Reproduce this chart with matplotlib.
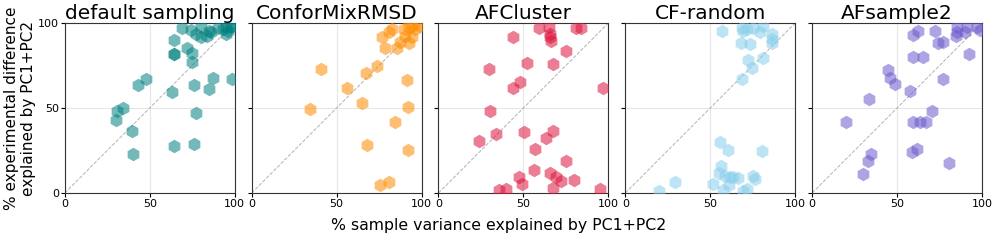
import numpy as np
import matplotlib.pyplot as plt

titles = ['default sampling', 'ConforMixRMSD', 'AFCluster', 'CF-random', 'AFsample2']
colors = ['teal', 'darkorange', 'crimson', 'skyblue', 'slateblue']

# default sampling
ds_x = [69, 74, 80, 77, 80, 85, 86, 84, 90, 93, 95, 98, 95, 96, 98.6, 64, 72, 75, 64, 64,
        75, 48, 43, 63, 76, 87, 98.6, 85, 34, 31, 30, 77.5, 39.4, 40, 64, 76]
ds_y = [97, 96, 97.4, 93.7, 91.7, 95.5, 94.5, 92.5, 97, 96.4, 97.4, 97.4, 93.5, 95.5, 98.4, 90, 85.6, 82.6, 82, 81.6,
        77.3, 66.8, 63.8, 59.7, 63.8, 67.4, 66.8, 61.3, 49.8, 48.4, 43, 47, 36.2, 23, 27.7, 28.7]

# ConforMixRMSD
cm_x = [40.7, 56.3, 34.4, 64.8, 67.2, 73.7, 91.5, 92, 84.2, 67.8, 92, 75.7, 81, 78.7, 85.6, 92.5,
        76.7, 80.6, 82.6, 89.5, 92.5, 94.5, 96.4, 98.4, 87.5, 94.5, 90.5]
cm_y = [73, 62, 49.4, 53, 70.4, 74.7, 66.4, 50.6, 41.9, 28.3, 25.3, 4.9, 6.3, 85.2, 85.2, 88.5,
        91.9, 94.5, 96.4, 96.4, 97.4, 98.4, 96.4, 98.4, 88.9, 91.5, 92.5]

# AFCluster
ac_x = [59.4, 65, 65.4, 66.3, 65.7, 80.7, 84, 43.7, 75.2, 52, 67.3, 29.9, 48, 43.7, 96.9, 30.5, 33.9,
        24, 50.2, 63.4, 67.3, 57, 75.2, 56.1, 47.6, 49.2, 65.7, 69.3, 72.2, 67.7, 79.5, 94.9, 35.8, 39.8]
ac_y = [96.8, 97.4, 93.5, 89.5, 91.5, 97, 97.2, 91.9, 83.4, 76.7, 76, 73, 65.2, 61.7, 61.9, 48.4, 34.8,
        30.8, 35.6, 32.6, 36.6, 25.7, 19, 13.8, 9.5, 5.5, 11.9, 9.5, 7.1, 3, 7.9, 2.6, 2, 2.6]

# CF-random
cf_x = [56.7, 68.5, 69.5, 71.5, 75.4, 81.3, 79.3, 86.2, 86.2, 86.6, 67.9, 73.4, 72, 81, 74.8, 68.5, 55.7,
        60.6, 80.7, 56.3, 55.1, 58.7, 61.6, 63.6, 66.5, 75.4, 76.4, 61.2, 51.8, 57.7, 69.1, 71.5, 29.1, 19.7]
cf_y = [95.5, 96.8, 95.5, 96.4, 96.8, 98, 95, 93.5, 88.5, 90.5, 88.5, 87.4, 78, 79.4, 73.3, 67.2, 30,
        25.3, 24.5, 16, 11.9, 10, 9.5, 9.5, 8.9, 9.9, 8.5, 4.5, 5.1, 2, 1.2, 2.6, 6.5, 1.2]

# AFsample2
as_x = [59.4, 62.4, 72.2, 85, 90.9, 96.9, 98.8, 85, 90, 84.6, 74.2, 76.8, 92.5, 59.4, 65.4, 44.7, 45.7,
        49, 76.8, 57.5, 33.3, 70.7, 20, 59.4, 63.4, 66.9, 34.8, 32.9, 29.9, 58.5, 61.8, 80.7]
as_y = [92.9, 95.5, 95.5, 97.4, 97.4, 97.4, 96, 94.5, 94.5, 92.5, 88.5, 88.9, 82, 80, 80, 72.3, 67.8,
        64.2, 66.8, 59.9, 55.3, 48.4, 41.7, 41.7, 41.7, 41.7, 22.9, 19, 10.9, 23.9, 25.7, 17.4]

xs = [ds_x, cm_x, ac_x, cf_x, as_x]
ys = [ds_y, cm_y, ac_y, cf_y, as_y]

fig, axes = plt.subplots(1, 5, figsize=(9.97, 2.4), dpi=100, sharey=True)
fig.subplots_adjust(left=0.065, right=0.985, bottom=0.196, top=0.904, wspace=0.1)

for ax, t, c, x, y in zip(axes, titles, colors, xs, ys):
    ax.plot([0, 100], [0, 100], ls='--', color='grey', lw=0.7, alpha=0.6, zorder=1)
    ax.scatter(x, y, marker='h', s=95, color=c, alpha=0.55, linewidths=0, zorder=3)
    ax.set_xlim(0, 100)
    ax.set_ylim(0, 100)
    ax.set_xticks([0, 50, 100])
    ax.set_yticks([0, 50, 100])
    ax.tick_params(labelsize=8, length=3, pad=1)
    ax.grid(True, color='#e6e6e6', lw=0.8)
    ax.set_axisbelow(True)
    ax.set_title(t, fontsize=14.5, pad=2)
    for s in ax.spines.values():
        s.set_color('#333333')

axes[0].set_ylabel('% experimental difference\nexplained by PC1+PC2', fontsize=11)
axes[0].yaxis.set_label_coords(-0.17, 0.5)
fig.text(0.5, 0.04, '% sample variance explained by PC1+PC2', ha='center', fontsize=11.3)

fig.savefig('out.png', dpi=100)
